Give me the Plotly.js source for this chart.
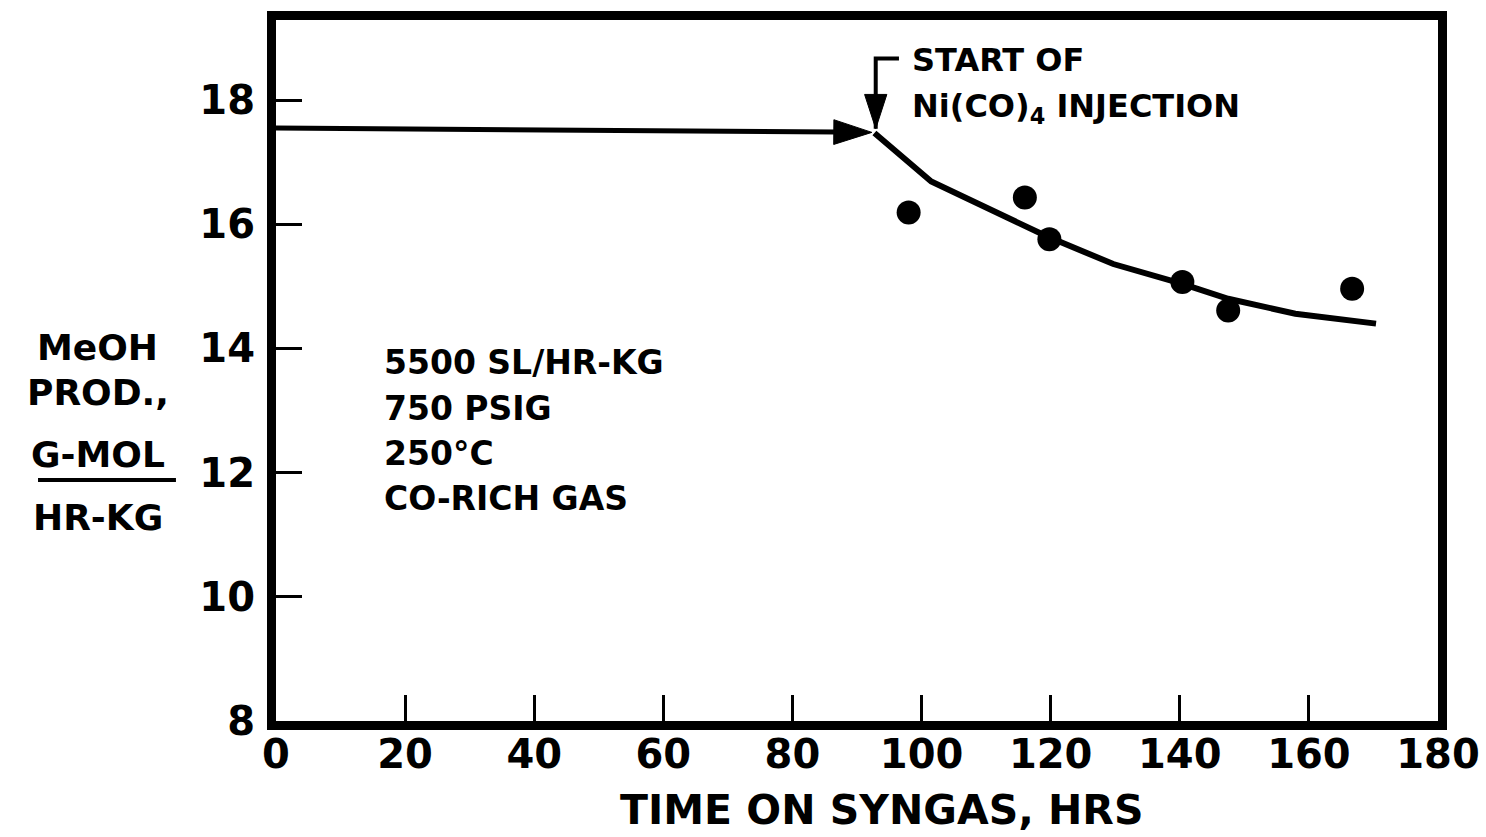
<!DOCTYPE html>
<html>
<head>
<meta charset="utf-8">
<script src="https://cdn.plot.ly/plotly-3.0.1.min.js"></script>
<style>html,body{margin:0;padding:0;background:#fff;}#chart{width:1486px;height:837px;}</style>
</head>
<body>
<div id="chart"></div>
<script>
// Measured data (MeOH productivity vs time on syngas)
const timeHrs = [98.0, 116.0, 119.8, 140.4, 147.5, 166.7];
const meohProd = [16.19, 16.43, 15.76, 15.07, 14.61, 14.96];
// Smooth trend curve after Ni(CO)4 injection
const fitTime = [92.7, 101.5, 119.3, 129.7, 140.4, 147.5, 157.9, 170.4];
const fitProd = [17.47, 16.69, 15.81, 15.36, 15.04, 14.80, 14.56, 14.40];
// Baseline before injection (arrow)
const baselineTime = [0, 92.3];
const baselineProd = [17.55, 17.48];
// Injection marker (bracket + downward arrow)
const injectionX = [96.5, 92.9, 92.9];
const injectionY = [18.67, 18.67, 17.54];
// Ticks
const xTicks = [0, 20, 40, 60, 80, 100, 120, 140, 160, 180];
const yTicks = [8, 10, 12, 14, 16, 18];
const conditions = ["5500 SL/HR-KG", "750 PSIG", "250°C", "CO-RICH GAS"];
const yTitleLines = ["MeOH", "PROD.,", "G-MOL", "HR-KG"];

const FONT = 'DejaVu Sans, Arial, sans-serif';
const bold = (size) => ({family: FONT, size: size, color: '#000', weight: 'bold'});

const traces = [
  {x: fitTime, y: fitProd, mode: 'lines', line: {color: '#000', width: 6}, showlegend: false, hoverinfo: 'skip'},
  {x: timeHrs, y: meohProd, mode: 'markers', marker: {color: '#000', size: 24}, showlegend: false},
  {x: baselineTime, y: baselineProd, mode: 'lines+markers', line: {color: '#000', width: 5},
   marker: {symbol: ['circle', 'arrow'], size: [0, 40], color: '#000', opacity: 1, angleref: 'previous',
            line: {width: 1, color: '#000'}},
   showlegend: false, hoverinfo: 'skip'},
  {x: injectionX, y: injectionY, mode: 'lines+markers', line: {color: '#000', width: 4},
   marker: {symbol: ['circle', 'circle', 'arrow'], size: [0, 0, 36], color: '#000', opacity: 1, angleref: 'previous',
            line: {width: 1, color: '#000'}},
   showlegend: false, hoverinfo: 'skip'}
];

const annotations = [];
annotations.push({x: 0.5456, y: 0.943, xref: 'paper', yref: 'paper', xanchor: 'left', yanchor: 'middle',
  text: 'START OF', showarrow: false, font: bold(32)});
annotations.push({x: 0.5456, y: 0.874, xref: 'paper', yref: 'paper', xanchor: 'left', yanchor: 'middle',
  text: 'Ni(CO)<sub>4</sub> INJECTION', showarrow: false, font: bold(32)});
const condY = [0.5121, 0.4465, 0.3823, 0.3181];
conditions.forEach((t, i) => annotations.push({x: 0.0912, y: condY[i], xref: 'paper', yref: 'paper',
  xanchor: 'left', yanchor: 'middle', text: t, showarrow: false, font: bold(33)}));
const ytY = [0.5321, 0.4693, 0.3795, 0.2910];
yTitleLines.forEach((t, i) => annotations.push({x: -0.1532, y: ytY[i], xref: 'paper', yref: 'paper',
  xanchor: 'center', yanchor: 'middle', text: t, showarrow: false, font: bold(36)}));
annotations.push({x: 0.5215, y: -0.127, xref: 'paper', yref: 'paper', xanchor: 'center', yanchor: 'middle',
  text: 'TIME ON SYNGAS, HRS', showarrow: false, font: bold(41)});

const shapes = [
  {type: 'line', xref: 'paper', yref: 'paper', x0: -0.2048, x1: -0.0861, y0: 0.3438, y1: 0.3438,
   line: {color: '#000', width: 4}}
];

const axisCommon = {
  showline: true, linewidth: 9, linecolor: '#000', mirror: true,
  ticks: 'inside', ticklen: 26, tickwidth: 3, tickcolor: '#000',
  showgrid: false, zeroline: false, tickfont: bold(40), fixedrange: true
};

const layout = {
  width: 1486, height: 837, autosize: false,
  margin: {l: 276, r: 48, t: 20, b: 116, pad: 0},
  paper_bgcolor: '#fff', plot_bgcolor: '#fff',
  showlegend: false,
  xaxis: Object.assign({}, axisCommon, {range: [0, 180], tickmode: 'array', tickvals: xTicks,
    ticklabelstandoff: -10}),
  yaxis: Object.assign({}, axisCommon, {range: [8, 19.29], tickmode: 'array', tickvals: yTicks,
    ticklabelstandoff: 4}),
  annotations: annotations,
  shapes: shapes
};

Plotly.newPlot('chart', traces, layout, {displayModeBar: false, staticPlot: true});
</script>
</body>
</html>
